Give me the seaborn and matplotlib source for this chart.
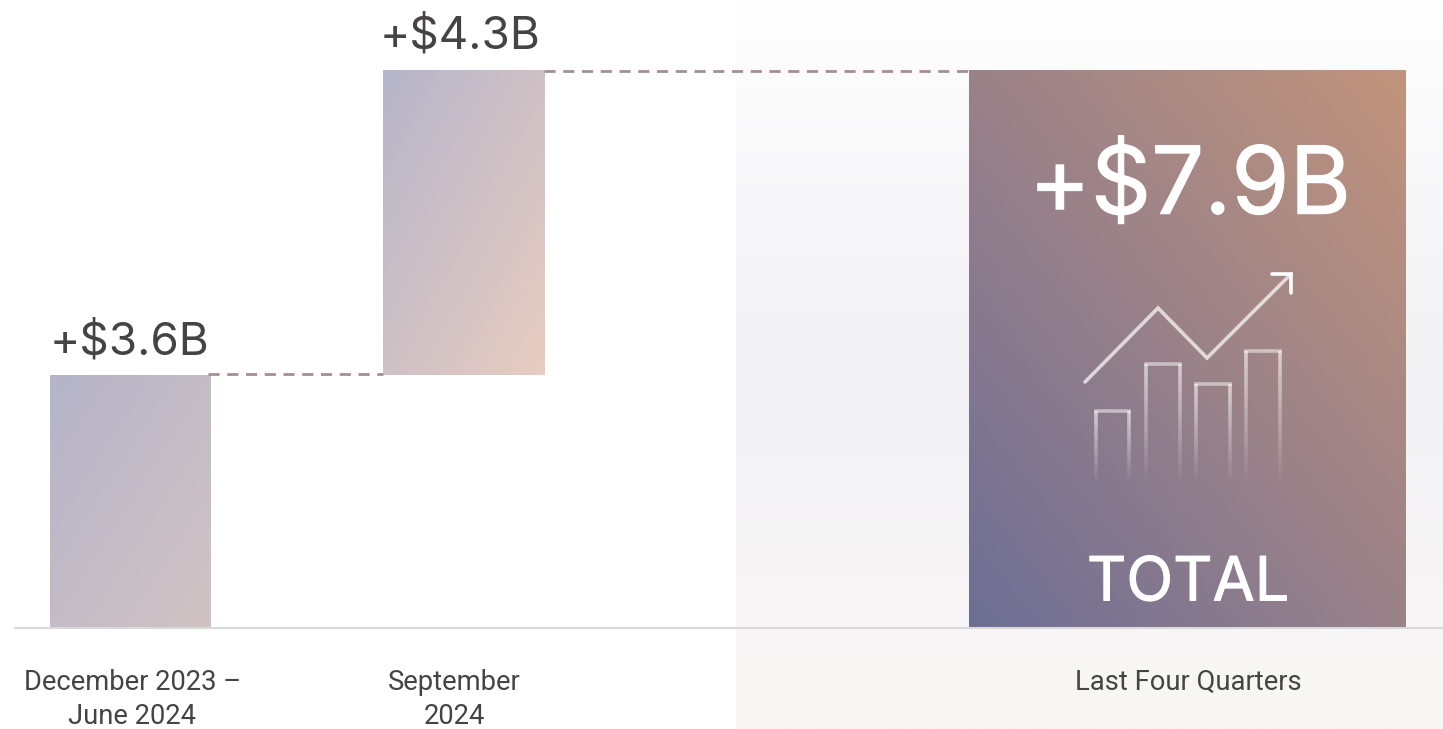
import numpy as np
import matplotlib
matplotlib.use('Agg')
import matplotlib.pyplot as plt
import matplotlib.patheffects as pe
from matplotlib.colors import LinearSegmentedColormap
import seaborn as sns

# values, in $B
periods = ['December 2023 –\nJune 2024', 'September\n2024', 'Last Four Quarters']
increments = [3.58, 4.32]
total = 7.9
value_labels = ['+$3.6B', '+$4.3B']
total_label = '+$7.9B'
total_title = 'TOTAL'

# layout, in pixels of the 1443x729 picture
W, H = 1443, 729
BASE_PX = 627
PX_PER_B = 70.5
BAR_EDGES = [(50, 211), (383, 545), (969, 1406)]
LABEL_X = [132.5, 454, 1188]
INK = '#454343'

def py(p):
    return (BASE_PX - p) / PX_PER_B

sns.set_theme(style='white')
plt.rcParams['font.family'] = ['Roboto', 'DejaVu Sans']

fig = plt.figure(figsize=(W / 100, H / 100), dpi=100)
ax = fig.add_axes([0, 0, 1, 1])
xlim, ylim = (0, W), (py(H), py(0))

# grey panel behind the total
panel = LinearSegmentedColormap.from_list('panel', [
    (0, '#ffffff'), (0.12, '#fbfbfc'), (0.52, '#f2f2f5'), (0.8, '#f7f5f6'), (1, '#f8f7f5')])
ax.imshow(np.linspace(0, 1, 256)[:, None], cmap=panel, aspect='auto', zorder=0,
          extent=(736, W, py(H), py(0)))

def bar(left, right, bottom, height, colors, rising=False):
    before = set(ax.patches)
    sns.barplot(x=[(left + right) / 2], y=[height], bottom=bottom, width=right - left,
                native_scale=True, color='white', ax=ax, zorder=2)
    patch = [p for p in ax.patches if p not in before][0]
    patch.set_linewidth(0)
    cmap = LinearSegmentedColormap.from_list('bar', colors)
    # image rows run top to bottom: rising goes bottom-left to top-right, else top-left to bottom-right
    u, v = np.meshgrid(np.linspace(0, 1, 200), np.linspace(1, 0, 200) if rising else np.linspace(0, 1, 200))
    im = ax.imshow((u + v) / 2, cmap=cmap, aspect='auto', zorder=3,
                   extent=(left, right, bottom, bottom + height))
    im.set_clip_path(patch)

tops = np.cumsum(increments)
bottoms = [0, tops[0]]
bar(*BAR_EDGES[0], bottoms[0], increments[0], ['#b5b4c9', '#d1c3c4'])
bar(*BAR_EDGES[1], bottoms[1], increments[1], ['#b6b5ca', '#e7cdc1'])
bar(*BAR_EDGES[2], 0, total, ['#6d6e95', '#9a8289', '#c2947c'], rising=True)

# connectors and baseline
dash = (0, (4.0, 2.75))
ax.plot([208, 383], [tops[0] + 0.015] * 2, color='#a58e96', lw=2, ls=dash, dash_capstyle='butt', zorder=4)
ax.plot([544, 969], [tops[1] - 0.01] * 2, color='#a58e96', lw=2, ls=dash, dash_capstyle='butt', zorder=4)
ax.plot([15, W], [py(628)] * 2, color='#dad9da', lw=1.5, zorder=4)

# value labels
ax.text(130, py(338), value_labels[0], color=INK, fontsize=33, family='Inter', ha='center', va='center_baseline', zorder=5)
ax.text(460.5, py(31.5), value_labels[1], color=INK, fontsize=33, family='Inter', ha='center', va='center_baseline', zorder=5)
bold = [pe.withStroke(linewidth=0.7, foreground='white')]
ax.text(1190, py(179), total_label, color='white', fontsize=67.6, family='Inter', ha='center', va='center_baseline',
        path_effects=bold, zorder=5)
ax.text(1188, py(578), total_title, color='white', fontsize=44, family='Inter', ha='center', va='center_baseline',
        path_effects=bold, zorder=5)

# period labels
for x, label in zip(LABEL_X, periods):
    ax.text(x, py(668.5), label, color=INK, fontsize=19.7, ha='center', va='top', linespacing=1.36, zorder=5)

# trend icon
icon_line = [(1085, 382), (1158, 308), (1207, 358), (1291, 274)]
ax.plot([p[0] for p in icon_line], [py(p[1]) for p in icon_line], color='white', alpha=0.7,
        lw=2.6, solid_joinstyle='miter', zorder=5)
ax.plot([1272, 1291, 1291], [py(274), py(274), py(293)], color='white', lw=2.6,
        solid_joinstyle='miter', zorder=6)

ICON_BOTTOM = 482
for left, right, top in [(1096, 1129, 411), (1146, 1180, 364), (1196, 1230, 384), (1246, 1280, 351)]:
    ax.plot([left, right], [py(top)] * 2, color='white', alpha=0.5, lw=2.6, solid_capstyle='projecting', zorder=5)
    steps = np.linspace(top, ICON_BOTTOM, 40)
    for a, b in zip(steps[:-1], steps[1:]):
        fade = 0.6 * (ICON_BOTTOM - a) / (ICON_BOTTOM - top)
        for x in (left, right):
            ax.plot([x, x], [py(a), py(b)], color='white', alpha=fade, lw=2.6, solid_capstyle='butt', zorder=5)

ax.set_xlim(*xlim)
ax.set_ylim(*ylim)
ax.set_xlabel('')
ax.set_ylabel('')
ax.axis('off')

fig.savefig('out.png', dpi=100)
plt.close()
